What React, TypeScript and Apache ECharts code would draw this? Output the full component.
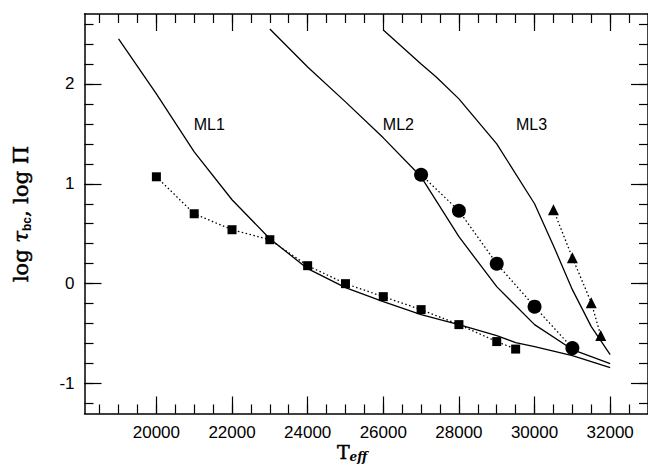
import React, { useEffect, useRef } from "react";
import * as echarts from "echarts";

// ---- data ----
const ml1: [number, number][] = [
  [19000, 2.45], [20000, 1.9], [21000, 1.32], [22000, 0.84], [23000, 0.45],
  [24000, 0.15], [25000, -0.04], [26000, -0.18], [27000, -0.31], [28000, -0.41],
  [29000, -0.52], [29500, -0.59], [30000, -0.63], [31000, -0.72], [32000, -0.84],
];
const ml2: [number, number][] = [
  [23000, 2.55], [24000, 2.17], [25000, 1.82], [26000, 1.46], [27000, 1.07],
  [28000, 0.47], [29000, -0.03], [30000, -0.41], [31000, -0.66], [32000, -0.8],
];
const ml3: [number, number][] = [
  [26000, 2.54], [27000, 2.2], [27400, 2.07], [28000, 1.85], [29000, 1.4],
  [30000, 0.8], [30500, 0.38], [31000, -0.06], [31500, -0.43], [32000, -0.71],
];
const squares: [number, number][] = [
  [20000, 1.07], [21000, 0.7], [22000, 0.54], [23000, 0.44], [24000, 0.18],
  [25000, 0.0], [26000, -0.13], [27000, -0.26], [28000, -0.41], [29000, -0.58],
  [29500, -0.655],
];
const circles: [number, number][] = [
  [27000, 1.09], [28000, 0.73], [29000, 0.2], [30000, -0.23], [31000, -0.645],
];
const triangles: [number, number][] = [
  [30500, 0.74], [31000, 0.26], [31500, -0.19], [31750, -0.52],
];
const curveLabels: [number, number, string][] = [
  [21400, 1.59, "ML1"], [26400, 1.59, "ML2"], [29920, 1.59, "ML3"],
];
const xMajor = [20000, 22000, 24000, 26000, 28000, 30000, 32000];
const xMinor = [
  18500, 19000, 19500, 20000, 20500, 21000, 21500, 22000, 22500, 23000, 23500,
  24000, 24500, 25000, 25500, 26000, 26500, 27000, 27500, 28000, 28500, 29000,
  29500, 30000, 30500, 31000, 31500, 32000, 32500,
];
const yMajor = [-1, 0, 1, 2];
const yMinor = [
  -1.2, -1, -0.8, -0.6, -0.4, -0.2, 0, 0.2, 0.4, 0.6, 0.8, 1, 1.2, 1.4, 1.6,
  1.8, 2, 2.2, 2.4, 2.6,
];

const X_MIN = 18099;
const X_MAX = 33000;
const Y_MIN = -1.3;
const Y_MAX = 2.7;

const black = "#000";
const labelFont = "'Liberation Sans', Arial, sans-serif";
const serif = "'DejaVu Serif', 'Liberation Serif', serif";

function xAxisDef(position: string, ticks: number[], len: number, labels: boolean, line: boolean) {
  return {
    type: "value",
    position,
    min: X_MIN,
    max: X_MAX,
    axisLine: { show: line, onZero: false, lineStyle: { color: black, width: 1.5 } },
    axisTick: { show: true, inside: true, length: len, customValues: ticks, lineStyle: { color: black, width: 1.2 } },
    axisLabel: labels
      ? {
          show: true, customValues: xMajor, margin: 10, color: black, fontSize: 17,
          fontFamily: labelFont, formatter: (v: number) => String(v),
        }
      : { show: false },
    splitLine: { show: false },
  };
}
function yAxisDef(position: string, ticks: number[], len: number, labels: boolean, line: boolean) {
  return {
    type: "value",
    position,
    min: Y_MIN,
    max: Y_MAX,
    axisLine: { show: line, onZero: false, lineStyle: { color: black, width: 1.5 } },
    axisTick: { show: true, inside: true, length: len, customValues: ticks, lineStyle: { color: black, width: 1.2 } },
    axisLabel: labels
      ? {
          show: true, customValues: yMajor, margin: 10, color: black, fontSize: 17,
          fontFamily: labelFont, formatter: (v: number) => String(v),
        }
      : { show: false },
    splitLine: { show: false },
  };
}

function solid(name: string, data: [number, number][]) {
  return {
    name, type: "line", data, symbol: "none", showSymbol: false,
    lineStyle: { color: black, width: 1.3 },
    z: 2,
  };
}
function dotted(name: string, data: [number, number][], symbol: string, size: number) {
  return {
    name, type: "line", data, symbol, symbolSize: size, showSymbol: true,
    itemStyle: { color: black },
    lineStyle: { color: black, width: 1.3, type: [1.5, 2.5] },
    z: 3,
  };
}

export default function App() {
  const ref = useRef<HTMLDivElement>(null);
  useEffect(() => {
    if (!ref.current) return;
    const chart = echarts.init(ref.current, null, { renderer: "svg" });
    const titleStroke = { fill: black, stroke: black, lineWidth: 0.5 };
    chart.setOption({
      animation: false,
      backgroundColor: "#fff",
      grid: { left: 84.5, top: 14, width: 566, height: 399.5, containLabel: false },
      xAxis: [
        xAxisDef("bottom", xMajor, 17, true, true),
        xAxisDef("top", xMajor, 17, false, true),
        xAxisDef("bottom", xMinor, 9, false, false),
        xAxisDef("top", xMinor, 9, false, false),
      ],
      yAxis: [
        yAxisDef("left", yMajor, 17, true, true),
        yAxisDef("right", yMajor, 17, false, true),
        yAxisDef("left", yMinor, 9, false, false),
        yAxisDef("right", yMinor, 9, false, false),
      ],
      series: [
        solid("ML1", ml1),
        solid("ML2", ml2),
        solid("ML3", ml3),
        dotted("squares", squares, "rect", 9),
        dotted("circles", circles, "circle", 14),
        dotted("triangles", triangles, "triangle", 11),
        {
          name: "labels",
          type: "scatter",
          data: curveLabels,
          symbolSize: 1,
          itemStyle: { color: "rgba(0,0,0,0)" },
          label: {
            show: true,
            position: "inside",
            formatter: (p: any) => p.value[2],
            color: black,
            opacity: 1,
            fontSize: 16,
            fontFamily: labelFont,
          },
          z: 4,
        },
      ],
      graphic: [
        {
          type: "text",
          x: 21,
          y: 214,
          rotation: Math.PI / 2,
          style: {
            text: "{a|log }{t|τ}{s|bc}{a|, log Π}",
            align: "center",
            verticalAlign: "middle",
            fill: black,
            rich: {
              a: { fontFamily: serif, fontSize: 21, lineHeight: 24, ...titleStroke },
              t: { fontFamily: serif, fontSize: 21, fontStyle: "italic", lineHeight: 24, ...titleStroke },
              s: { fontFamily: labelFont, fontSize: 12, fontWeight: "bold", verticalAlign: "bottom", lineHeight: 24, fill: black },
            },
          },
        },
        {
          type: "text",
          x: 352,
          y: 452,
          style: {
            text: "{t|T}{s|eff}",
            align: "center",
            verticalAlign: "middle",
            fill: black,
            rich: {
              t: { fontFamily: serif, fontSize: 19, lineHeight: 22, ...titleStroke },
              s: { fontFamily: serif, fontSize: 12, fontWeight: "bold", fontStyle: "italic", verticalAlign: "bottom", lineHeight: 22, fill: black },
            },
          },
        },
      ],
    });
    return () => chart.dispose();
  }, []);
  return (
    <div
      ref={ref}
      style={{ position: "fixed", left: 0, top: 0, width: 648, height: 468, background: "#fff" }}
    />
  );
}
